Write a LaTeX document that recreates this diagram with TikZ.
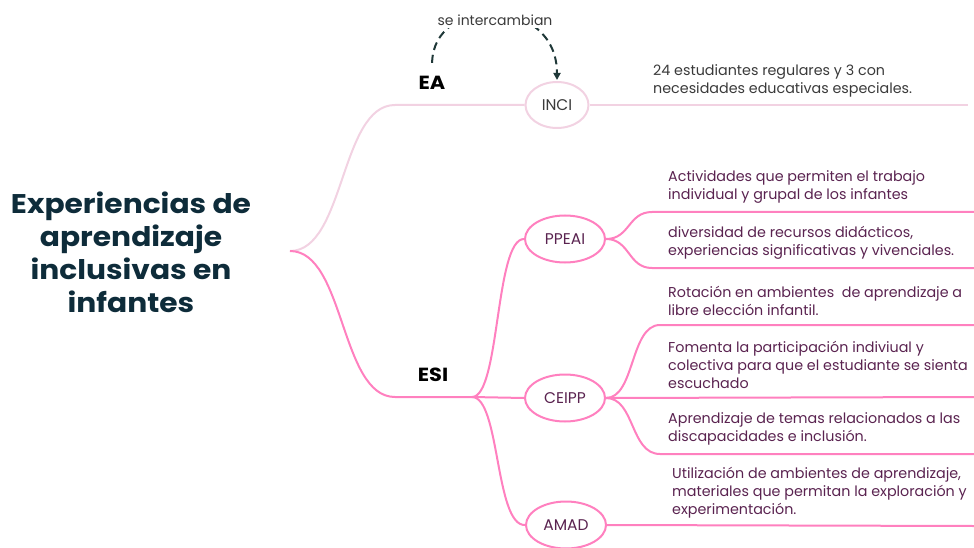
\documentclass[tikz,border=0pt]{standalone}
\usepackage{fontspec}
\setmainfont{Poppins}
\newfontfamily\anchafont{Poppins}[FakeStretch=1.1]
\usetikzlibrary{arrows.meta, positioning, shapes.geometric, calc}
\definecolor{rosa}{HTML}{FF80BF}
\definecolor{rosapalido}{HTML}{F2D2E2}
\definecolor{vino}{HTML}{5A2350}
\definecolor{tinta}{HTML}{0E2C3A}
\definecolor{gris}{HTML}{3A3A3A}
\definecolor{trazo}{HTML}{1F3838}

\tikzset{
    rama/.style={rosa, line width=2pt},
    ramapalida/.style={rosapalido, line width=2pt},
    elipse/.style={ellipse, draw=rosa, line width=2pt, fill=white, inner sep=1pt,
        minimum width=80pt, minimum height=47pt, text=vino, font=\fontsize{15.5}{18}\selectfont},
    hoja/.style={anchor=south west, align=left, inner sep=0pt, text=vino,
        font=\fontsize{14.3}{18}\selectfont},
    etiqueta/.style={font=\anchafont\bfseries\fontsize{19}{22}\selectfont, text=black},
    guion/.style={trazo, line width=2pt, dash pattern=on 8pt off 5pt,
        -{Triangle[length=7pt,width=7pt]}},
}

\begin{document}
\begin{tikzpicture}[x=1pt, y=-1pt]

            % Marco del dibujo
            \useasboundingbox (0,0) rectangle (974,548);

            % Tema central
            \node[align=center, text=tinta, font=\anchafont\bfseries\fontsize{27}{33}\selectfont] (titulo) at (131,252)
                {Experiencias de\\aprendizaje\\inclusivas en\\infantes};
            \coordinate (raiz) at (290,251);

            % Rama EA
            \node[etiqueta] (ea) at (432,83) {EA};
            \node[elipse, draw=rosapalido, text=gris, minimum width=63pt, minimum height=46pt] (inci) at (557,105) {INCI};
            \draw[ramapalida] (raiz) .. controls (345,251) and (340,105) .. (395,105) -- (inci.west);
            \coordinate (finInci) at (968,105);
            \draw[ramapalida] (inci.east) -- (finInci);
            \node[hoja, text=gris] (tInci) at (653,97) {24 estudiantes regulares y 3 con\\necesidades educativas especiales.};

            % Flecha punteada entre EA e INCI
            \draw[guion, shorten <=10pt, shorten >=1pt] (ea.north) .. controls (433,-5) and (557,-5) .. (inci.north);
            \node[fill=white, inner sep=3pt, text=gris, font=\fontsize{14}{16}\selectfont] (intercambio) at (495,20) {se intercambian};

            % Rama ESI
            \node[etiqueta] (esi) at (433,375) {ESI};
            \coordinate (nudo) at (472,397);
            \draw[rama] (raiz) .. controls (345,251) and (340,397) .. (395,397) -- (nudo);

            \node[elipse] (ppeai) at (565,239) {PPEAI};
            \node[elipse] (ceipp) at (565,398) {CEIPP};
            \node[elipse] (amad) at (566,525) {AMAD};
            \draw[rama] (nudo) .. controls (500,397) and (495,239) .. (ppeai.west);
            \draw[rama] (nudo) -- (ceipp.west);
            \draw[rama] (nudo) .. controls (500,397) and (495,526) .. (amad.west);

            % Hojas de PPEAI
            \coordinate (finA) at (974,212);
            \coordinate (finB) at (974,268);
            \draw[rama] (ppeai.east) .. controls (630,239) and (628,212) .. (652,212) -- (finA);
            \draw[rama] (ppeai.east) .. controls (630,239) and (628,268) .. (652,268) -- (finB);
            \node[hoja] (tA) at (668,204) {Actividades que permiten el trabajo\\individual y grupal de los infantes};
            \node[hoja] (tB) at (668,260) {diversidad de recursos didácticos,\\experiencias significativas y vivenciales.};

            % Hojas de CEIPP
            \coordinate (finC) at (974,325);
            \coordinate (finD) at (974,397);
            \coordinate (finE) at (974,454);
            \draw[rama] (ceipp.east) .. controls (635,398) and (630,325) .. (660,325) -- (finC);
            \draw[rama] (ceipp.east) -- (finD);
            \draw[rama] (ceipp.east) .. controls (635,398) and (630,454) .. (660,454) -- (finE);
            \node[hoja] (tC) at (668,316) {Rotación en ambientes\ \ de aprendizaje a\\libre elección infantil.};
            \node[hoja] (tD) at (668,389) {Fomenta la participación indiviual y\\colectiva para que el estudiante se sienta\\escuchado};
            \node[hoja] (tE) at (668,445) {Aprendizaje de temas relacionados a las\\discapacidades e inclusión.};

            % Hoja de AMAD
            \coordinate (finF) at (974,526);
            \draw[rama] (amad.east) -- (finF);
            \node[hoja] (tF) at (672,518) {Utilización de ambientes de aprendizaje,\\materiales que permitan la exploración y\\experimentación.};

\end{tikzpicture}
\end{document}
